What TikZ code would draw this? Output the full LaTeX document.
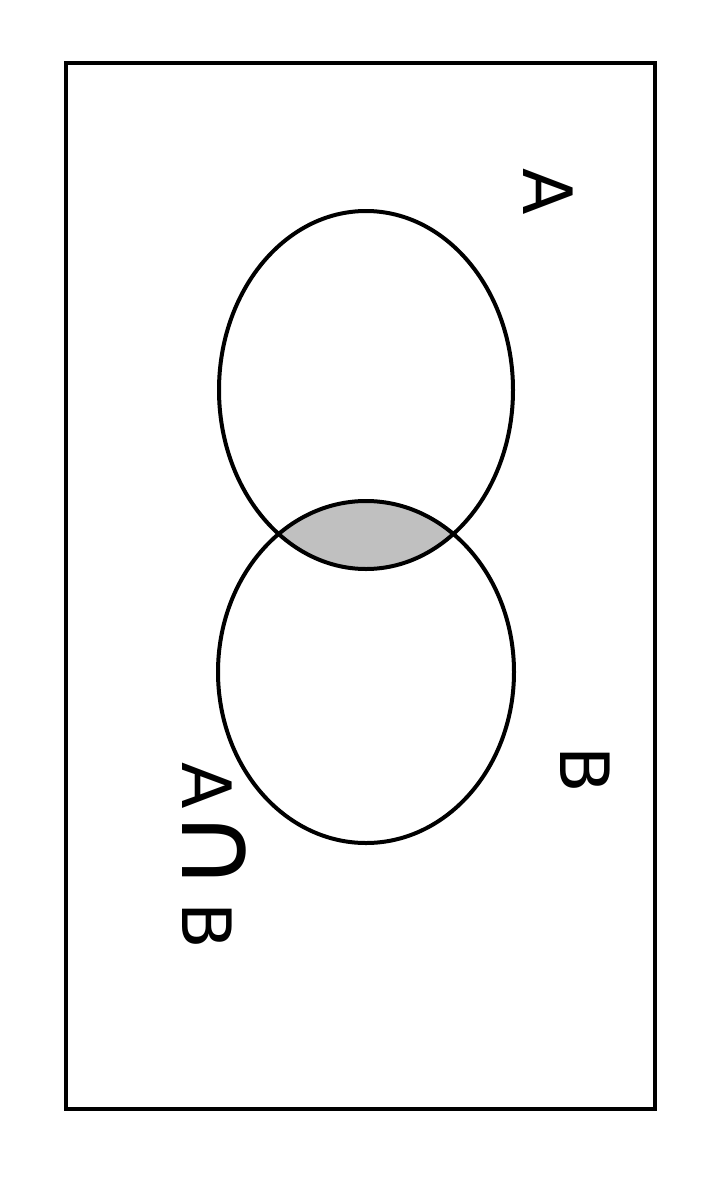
\documentclass[tikz,border=0pt]{standalone}
\usepackage{fontspec}
\setsansfont{DejaVu Sans}
\definecolor{lensgray}{RGB}{192,192,192}

\begin{document}
\begin{tikzpicture}[x=1pt,y=-1pt,line width=4pt,
    setlabel/.style={font=\sffamily\fontsize{68}{80}\selectfont,rotate=-90,inner sep=0pt}]
                \useasboundingbox (0,0) rectangle (708,1186);
                \draw (66,63) rectangle (655,1109);
                \begin{scope}
                    \clip (366,390) ellipse (147 and 179);
                    \fill[lensgray] (366,672) ellipse (148 and 171);
                \end{scope}
                \draw (366,390) ellipse (147 and 179);
                \draw (366,672) ellipse (148 and 171);
                \node[setlabel] (labA) at (548,192){A};
                \node[setlabel] (labB) at (585,770){B};
                \node[setlabel,anchor=base] (labAB) at (182,856){A\hspace{1pt}{\fontsize{110}{110}\selectfont ∩}\hspace{12pt}B};
            \end{tikzpicture}
\end{document}
